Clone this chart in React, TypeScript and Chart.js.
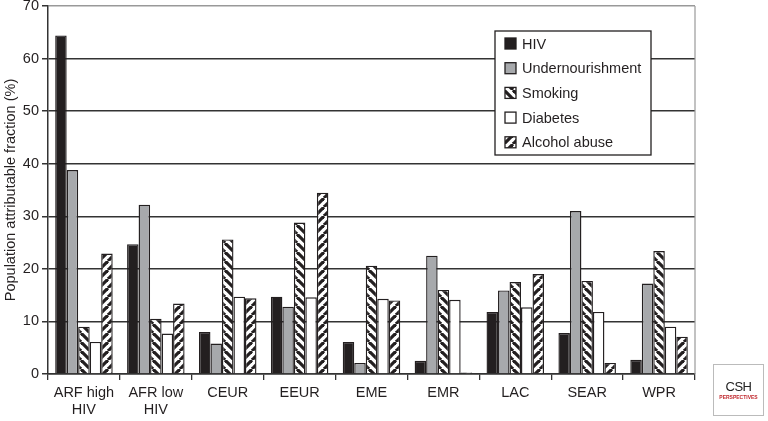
import React, { useEffect, useRef } from "react";
import { Chart, registerables, Plugin } from "chart.js";

Chart.register(...registerables);

const regions = [
  ["ARF high", "HIV"],
  ["AFR low", "HIV"],
  "CEUR",
  "EEUR",
  "EME",
  "EMR",
  "LAC",
  "SEAR",
  "WPR",
];

const hiv = [64.4, 24.7, 8.0, 14.7, 6.1, 2.5, 11.8, 7.8, 2.7];
const undernourishment = [38.8, 32.2, 5.8, 12.8, 2.1, 22.5, 15.9, 31.0, 17.2];
const smoking = [9.0, 10.5, 25.6, 28.8, 20.6, 16.0, 17.5, 17.7, 23.4];
const diabetes = [6.1, 7.7, 14.7, 14.6, 14.3, 14.1, 12.7, 11.8, 9.0];
const alcohol = [22.9, 13.4, 14.4, 34.5, 14.0, 0.3, 19.0, 2.1, 7.1];

const yTicks = [0, 10, 20, 30, 40, 50, 60, 70];

const INK = "#231f20";
const FONT = "'Liberation Sans', Arial, Helvetica, sans-serif";

function stripes(forward: boolean): CanvasPattern | string {
  const size = 9;
  const c = document.createElement("canvas");
  c.width = size;
  c.height = size;
  const g = c.getContext("2d");
  if (!g) return "#fff";
  g.fillStyle = "#fff";
  g.fillRect(0, 0, size, size);
  g.strokeStyle = INK;
  g.lineWidth = 3.2;
  for (const x0 of [-size, 0, size]) {
    g.beginPath();
    if (forward) {
      g.moveTo(x0, size);
      g.lineTo(x0 + size, 0);
    } else {
      g.moveTo(x0, 0);
      g.lineTo(x0 + size, size);
    }
    g.stroke();
  }
  return g.createPattern(c, "repeat") || "#fff";
}

// legend box drawn inside the plot, plus the grey right border of the frame
const framePlugin: Plugin<"bar"> = {
  id: "framePlugin",
  afterDraw(chart) {
    const { ctx, chartArea } = chart;
    ctx.save();
    ctx.strokeStyle = "#999";
    ctx.lineWidth = 1.2;
    ctx.beginPath();
    ctx.moveTo(chartArea.right, chartArea.top);
    ctx.lineTo(chartArea.right, chartArea.bottom);
    ctx.stroke();

    const bx = 495;
    const by = 31;
    const bw = 156;
    const bh = 124;
    ctx.fillStyle = "#fff";
    ctx.fillRect(bx, by, bw, bh);
    ctx.strokeStyle = INK;
    ctx.lineWidth = 1.3;
    ctx.strokeRect(bx, by, bw, bh);

    ctx.font = `14.5px ${FONT}`;
    ctx.textBaseline = "middle";
    ctx.textAlign = "left";
    chart.data.datasets.forEach((ds, i) => {
      const cy = 43.5 + i * 24.7;
      ctx.fillStyle = ds.backgroundColor as any;
      ctx.fillRect(505, cy - 5.5, 11, 11);
      ctx.strokeStyle = INK;
      ctx.lineWidth = 1.3;
      ctx.strokeRect(505, cy - 5.5, 11, 11);
      ctx.fillStyle = INK;
      ctx.fillText(String(ds.label), 522, cy + 1);
    });
    ctx.restore();
  },
};

const App: React.FC = () => {
  const canvasRef = useRef<HTMLCanvasElement | null>(null);

  useEffect(() => {
    const ctx = canvasRef.current?.getContext("2d");
    if (!ctx) return;

    const common = {
      borderColor: INK,
      borderWidth: 1.4,
      categoryPercentage: 0.8,
      barPercentage: 1.0,
    };

    const chart = new Chart(ctx, {
      type: "bar",
      data: {
        labels: regions as any,
        datasets: [
          { label: "HIV", data: hiv, backgroundColor: INK, ...common },
          {
            label: "Undernourishment",
            data: undernourishment,
            backgroundColor: "#a7a9ac",
            ...common,
          },
          {
            label: "Smoking",
            data: smoking,
            backgroundColor: stripes(false) as any,
            ...common,
          },
          { label: "Diabetes", data: diabetes, backgroundColor: "#fff", ...common },
          {
            label: "Alcohol abuse",
            data: alcohol,
            backgroundColor: stripes(true) as any,
            ...common,
          },
        ],
      },
      options: {
        animation: false,
        responsive: true,
        maintainAspectRatio: false,
        layout: { padding: { top: 6, right: 73, left: 0, bottom: 0 } },
        plugins: {
          legend: { display: false },
          tooltip: { enabled: false },
        },
        scales: {
          x: {
            offset: true,
            grid: {
              offset: true,
              drawOnChartArea: false,
              tickLength: 6,
              color: "#333",
              lineWidth: 1.3,
            },
            border: { display: true, color: "#333", width: 1.5 },
            ticks: {
              color: INK,
              font: { family: FONT, size: 14.5, lineHeight: 1.2 },
              padding: 4,
              maxRotation: 0,
              autoSkip: false,
            },
            afterFit: (scale) => {
              scale.height = 47;
            },
          },
          y: {
            min: 0,
            max: 70,
            afterBuildTicks: (scale) => {
              scale.ticks = yTicks.map((v) => ({ value: v }));
            },
            grid: {
              color: (c) => (c.tick && c.tick.value === 70 ? "#999" : "#333"),
              tickColor: "#333",
              lineWidth: 1.5,
              tickLength: 6,
            },
            border: { display: true, color: "#333", width: 1.5 },
            ticks: {
              color: INK,
              font: { family: FONT, size: 14.5, lineHeight: 1 },
              padding: 3,
            },
            title: {
              display: true,
              text: "Population attributable fraction (%)",
              color: INK,
              font: { family: FONT, size: 14.5 },
              padding: { top: 2, bottom: 2 },
            },
            afterFit: (scale) => {
              scale.width = 48;
              scale.paddingTop = 0;
              scale.paddingBottom = 0;
            },
          },
        },
      },
      plugins: [framePlugin],
    });

    return () => {
      chart.destroy();
    };
  }, []);

  return (
    <div
      style={{
        position: "fixed",
        left: 0,
        top: 0,
        width: 768,
        height: 421,
        background: "#fff",
        fontFamily: FONT,
      }}
    >
      <canvas ref={canvasRef} />
      <div
        style={{
          position: "absolute",
          left: 713,
          top: 364,
          width: 51,
          height: 52,
          border: "1px solid #bbb",
          boxSizing: "border-box",
          display: "flex",
          flexDirection: "column",
          alignItems: "center",
          justifyContent: "center",
          lineHeight: 1,
        }}
      >
        <span style={{ fontSize: 13, color: "#222", letterSpacing: -0.5 }}>CSH</span>
        <span style={{ fontSize: 5, color: "#c0272d", fontWeight: 700, marginTop: 2 }}>
          PERSPECTIVES
        </span>
      </div>
    </div>
  );
};

export default App;
